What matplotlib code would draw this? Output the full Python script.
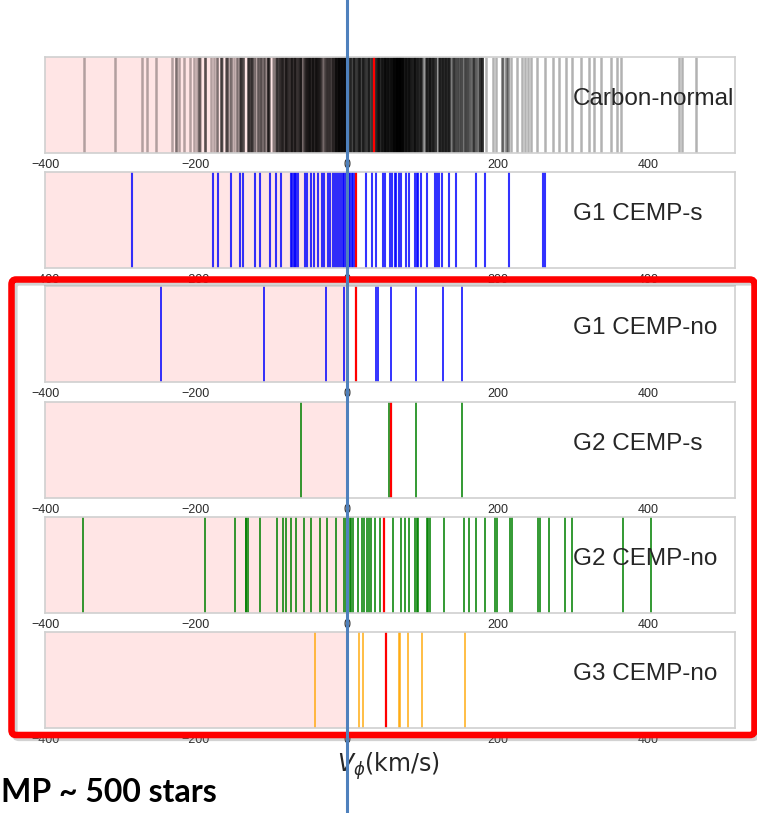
import numpy as np
import matplotlib
matplotlib.use('Agg')
import matplotlib.pyplot as plt
from matplotlib.patches import FancyBboxPatch
from matplotlib.lines import Line2D

plt.rcParams['font.family'] = ['Liberation Sans', 'DejaVu Sans']

# --- values (V_phi in km/s) ---
# carbon-normal: positions + how many stars stack there (from darkness)
carbon_vphi = [-348, -307, -271, -265, -253, -231, -226, -222, -216, -208, -203,
               -198, -196, -194, -188, -180, -176, -172, -167, -165, -160, -158,
               -156, -153, -150, -145, -142, -140, -138, -131, -129, -127, -125,
               -123, -120, -118, -116, -113, -109, -106, -104, -103, -98, -96,
               -94, -92, -90, -88, -86, -84, -82, -80, -78, -76, -74, -72, -70,
               -68, -66, -64, -62, -60, -56, -54, -52, -50, -48, -46, -44, -42,
               -40, -38, -36, -34, -30, -28, -26, -24, -22, -20, -18, -16, -14,
               -12, -10, -8, -6, -4, -2, 0, 2, 4, 6, 8, 10, 12, 14, 16, 18, 20,
               22, 24, 26, 28, 30, 32, 34, 37, 39, 41, 43, 45, 47, 49, 51, 53, 55,
               57, 59, 61, 63, 65, 67, 69, 71, 73, 75, 77, 79, 81, 83, 85, 87, 89,
               91, 93, 95, 97, 99, 101, 105, 107, 109, 111, 113, 115, 117, 119,
               122, 124, 126, 128, 130, 132, 134, 136, 138, 141, 143, 145, 147,
               149, 151, 153, 155, 157, 159, 161, 163, 165, 167, 169, 171, 173,
               175, 177, 179, 185, 194, 198, 206, 208, 211, 214, 218, 226, 232,
               237, 240, 245, 253, 263, 273, 282, 291, 299, 311, 322, 328, 337,
               351, 359, 364, 441, 445, 463]
carbon_n = [1, 1, 1, 1, 1, 1, 2, 1, 1, 1, 1,
            1, 2, 1, 3, 1, 1, 2, 3, 1, 2, 2,
            1, 2, 1, 2, 3, 2, 3, 3, 2, 3, 2,
            2, 1, 2, 1, 3, 3, 2, 3, 2, 1, 1,
            2, 3, 2, 3, 4, 2, 3, 4, 3, 2, 4, 3, 3,
            4, 2, 3, 4, 3, 4, 3, 4, 5, 3, 4, 4, 3,
            5, 4, 3, 4, 3, 2, 3, 3, 2, 3, 3, 4, 5,
            5, 6, 5, 5, 6, 4, 3, 2, 4, 2, 3, 4, 2, 3, 5, 2, 3,
            4, 3, 2, 4, 3, 2, 3, 2, 4, 5, 4, 3, 5, 4, 6, 4, 5,
            4, 5, 6, 6, 8, 8, 9, 8, 7, 5, 4, 5, 4, 5, 4, 3, 5,
            4, 4, 3, 4, 3, 2, 4, 3, 4, 4, 3, 4, 3, 2,
            4, 3, 4, 3, 4, 3, 4, 3, 2, 2, 3, 2, 2,
            3, 2, 2, 1, 3, 2, 2, 2, 1, 3, 2, 2, 1,
            2, 3, 5, 1, 1, 1, 2, 1, 2, 2, 1, 1, 1,
            1, 1, 1, 1, 1, 1, 1, 1, 1, 1, 1, 1, 1,
            1, 1, 1, 1, 1, 1]

g1s_vphi = [-285, -177, -170, -154, -142, -137, -122, -115, -102, -94, -87,
            -74, -72, -70, -68, -67, -64, -55, -53, -47, -43, -38, -33, -30,
            -25, -22, -18, -16, -13, -10, -7, -5, -3, -1, 1, 3, 5, 7, 9, 11,
            26, 33, 39, 48, 51, 57, 60, 64, 66, 70, 72, 79, 83, 91, 93, 95, 98,
            107, 117, 120, 122, 127, 136, 145, 172, 184, 215, 261, 263]
g1no_vphi = [-246, -110, -28, -3, 39, 41, 59, 92, 128, 153]
g2s_vphi = [-61, 56, 92, 153]
g2no_vphi = [-350, -188, -148, -134, -133, -131, -115, -92, -84, -80, -74, -67,
             -57, -47, -35, -26, -14, -3, -1, 0, 2, 4, 6, 8, 15, 21, 23, 27, 30,
             32, 38, 44, 61, 72, 77, 83, 91, 93, 95, 106, 108, 110, 129, 155,
             162, 172, 184, 197, 199, 217, 219, 254, 257, 269, 290, 299, 366, 403]
g3no_vphi = [-42, 16, 22, 69, 71, 81, 100, 157]

# red marker in each panel
red_vphi = [36, 13, 13, 59, 50, 52]

labels = ['Carbon-normal', 'G1 CEMP-s', 'G1 CEMP-no',
          'G2 CEMP-s', 'G2 CEMP-no', 'G3 CEMP-no']
colors = ['black', 'blue', 'blue', 'green', 'green', 'orange']
alphas = [0.3, 0.8, 0.8, 0.8, 0.8, 0.85]
widths = [1.8, 1.5, 1.4, 1.4, 1.4, 1.2]
series = [np.repeat(carbon_vphi, carbon_n), g1s_vphi, g1no_vphi,
          g2s_vphi, g2no_vphi, g3no_vphi]

W, H = 757, 813
fig = plt.figure(figsize=(W / 100, H / 100), dpi=100)

tops = [57, 172, 286, 402, 517, 632]
for i, top in enumerate(tops):
    ax = fig.add_axes([45 / W, 1 - (top + 96) / H, 690 / W, 96 / H])
    ax.axvspan(-400, 0, color='red', alpha=0.1, lw=0)
    ax.vlines(series[i], 0, 1, color=colors[i], alpha=alphas[i], lw=widths[i])
    ax.vlines(red_vphi[i], 0, 1, color='red', lw=1.6)
    ax.set_xlim(-400, 515)
    ax.set_ylim(0, 1)
    ax.set_yticks([])
    ax.set_xticks([-400, -200, 0, 200, 400])
    ax.tick_params(axis='x', length=0, pad=4, labelsize=9, labelcolor='#2a2a2a')
    for s in ax.spines.values():
        s.set_color('#d0d0d0')
        s.set_linewidth(1.2)
    ax.text(300, 0.5, labels[i], ha='left', va='baseline', fontsize=17.5,
            color='#262626')

# x label
fig.text(389 / W, 1 - 772 / H, r'$V_{\phi}$(km/s)', ha='center', va='baseline',
         fontsize=17, color='#262626', family='DejaVu Sans')

# red highlight box (slide annotation)
x0, y0, x1, y1 = 11.5, 279.5, 754.5, 735
shadow = FancyBboxPatch((x0 / W + 3 / W, 1 - y1 / H - 3 / H), (x1 - x0) / W, (y1 - y0) / H,
                        boxstyle='round,pad=0,rounding_size=0.006', transform=fig.transFigure,
                        fill=False, edgecolor='gray', alpha=0.35, lw=4.5, zorder=9)
fig.add_artist(shadow)
box = FancyBboxPatch((x0 / W, 1 - y1 / H), (x1 - x0) / W, (y1 - y0) / H,
                     boxstyle='round,pad=0,rounding_size=0.006', transform=fig.transFigure,
                     fill=False, edgecolor='red', lw=4.7, zorder=10)
fig.add_artist(box)

# blue vertical marker at V_phi = 0
fig.add_artist(Line2D([347 / W, 347 / W], [0, 1], transform=fig.transFigure,
                      color='#4f81bd', lw=2.2, zorder=11))

# slide caption (only this part is visible on the slide)
fig.text(1 / W, 1 - 802 / H, 'MP ~ 500 stars', ha='left', va='baseline',
         fontsize=23, fontweight='bold', family=['Lato', 'DejaVu Sans'],
         color='black')

plt.savefig('out.png', dpi=100)
